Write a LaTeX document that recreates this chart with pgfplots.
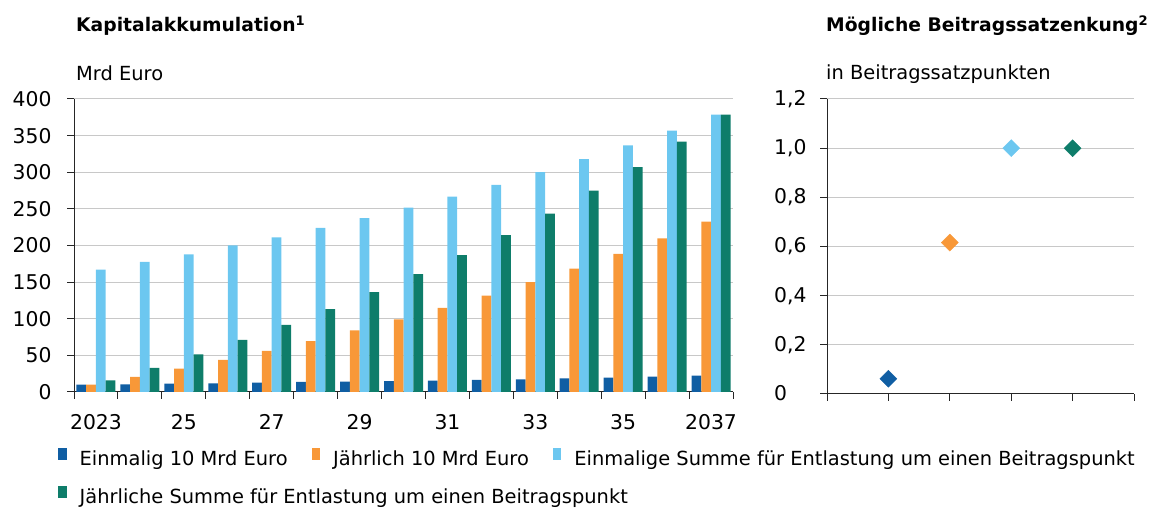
\documentclass[border=0pt]{standalone}
\usepackage{pgfplots}
\pgfplotsset{compat=1.18}
\usepackage{fontspec}
\setmainfont{DejaVu Sans}
\definecolor{cblue}{RGB}{16,94,163}
\definecolor{corange}{RGB}{248,152,56}
\definecolor{clight}{RGB}{108,199,240}
\definecolor{cgreen}{RGB}{14,125,106}
\definecolor{cgrid}{RGB}{200,200,200}
\begin{document}
\begin{tikzpicture}
\path[use as bounding box] (0,0) rectangle (1161bp,510bp);
\node[anchor=base west, font=\bfseries\fontsize{18.8}{22}\selectfont, inner sep=0] at (76bp,478bp) {Kapitalakkumulation\textsuperscript{1}};
\node[anchor=base west, font=\fontsize{19.5}{23}\selectfont, inner sep=0] at (76bp,429bp) {Mrd Euro};
\node[anchor=base west, font=\bfseries\fontsize{18.8}{22}\selectfont, inner sep=0] at (826bp,478bp) {Mögliche Beitragssatzenkung\textsuperscript{2}};
\node[anchor=base west, font=\fontsize{19.5}{23}\selectfont, inner sep=0] at (826bp,430bp) {in Beitragssatzpunkten};
\begin{axis}[
  name=L,
  at={(74bp,118bp)}, anchor=south west,
  width=659bp, height=293bp, scale only axis,
  xmin=-0.5, xmax=14.5, ymin=0, ymax=400,
  axis lines=left, axis line style={-, black!85, line width=1bp},
  ytick={0,50,...,400},
  ymajorgrids, grid style={cgrid, line width=1bp},
  xtick={0,2,4,6,8,10,12,14},
  xticklabels={2023,25,27,29,31,33,35,2037},
  tick align=outside, major tick length=7bp,
  tick style={black!85, line width=1bp},
  major x tick style={draw=none},
  /pgf/number format/assume math mode=true,
  tick label style={font=\fontsize{20.4}{24}\selectfont},
  xticklabel style={yshift=-12bp},
  yticklabel style={xshift=-12bp},
  legend columns=3,
  legend cell align=left,
  legend style={draw=none, fill=none, inner sep=0pt, at={(-0.0243,-0.19)}, anchor=north west,
    font=\fontsize{19.5}{23}\selectfont, row sep=17bp,
    /tikz/every odd column/.append style={column sep=11bp},
    /tikz/every even column/.append style={column sep=22bp}},
  legend image code/.code={\fill[#1,draw=none] (0bp,-1bp) rectangle (8.5bp,11bp);},
]
\addplot[ybar, bar width=9.75bp, bar shift=-14.625bp, fill=cblue, draw=none] coordinates {(0,10) (1,10.5) (2,11.4) (3,11.8) (4,12.7) (5,13.7) (6,14) (7,15) (8,15.5) (9,16.4) (10,17.3) (11,18.7) (12,19.6) (13,21) (14,22.3)};
\addlegendentry{Einmalig 10 Mrd Euro}
\addplot[ybar, bar width=9.75bp, bar shift=-4.875bp, fill=corange, draw=none] coordinates {(0,10) (1,20.5) (2,32) (3,43.7) (4,56) (5,69.6) (6,84) (7,99) (8,114.7) (9,131.5) (10,150) (11,168.4) (12,188.4) (13,209.8) (14,232.5)};
\addlegendentry{Jährlich 10 Mrd Euro}
\addplot[ybar, bar width=9.75bp, bar shift=4.875bp, fill=clight, draw=none] coordinates {(0,167) (1,177.5) (2,188) (3,200) (4,211) (5,224) (6,237.5) (7,251.6) (8,266.7) (9,282.6) (10,300) (11,318) (12,336.7) (13,356.8) (14,378.6)};
\addlegendentry{Einmalige Summe für Entlastung um einen Beitragspunkt}
\addplot[ybar, bar width=9.75bp, bar shift=14.625bp, fill=cgreen, draw=none] coordinates {(0,16) (1,33) (2,51.4) (3,71) (4,91.5) (5,113) (6,136.5) (7,161) (8,187) (9,214.3) (10,243.5) (11,275) (12,307) (13,341.8) (14,378.6)};
\addlegendentry{\makebox[0pt][l]{Jährliche Summe für Entlastung um einen Beitragspunkt}}
\end{axis}
\foreach \i in {0,...,15}{
  \draw[black!85, line width=1bp] ([xshift=\i*43.9333bp]L.south west) -- ++(0,-7bp);
}
\begin{axis}[
  at={(827bp,116bp)}, anchor=south west,
  width=307bp, height=295bp, scale only axis,
  xmin=0, xmax=5, ymin=0, ymax=1.2,
  axis lines=left, axis line style={-, black!85, line width=1bp},
  xtick={0,1,2,3,4,5}, xticklabels={},
  ytick={0,0.2,0.4,0.6,0.8,1.0,1.2},
  yticklabels={0\phantom{,0},{0,2},{0,4},{0,6},{0,8},{1,0},{1,2}},
  ymajorgrids, grid style={cgrid, line width=1bp},
  tick align=outside, major tick length=7bp,
  tick style={black!85, line width=1bp},
  tick label style={font=\fontsize{20.4}{24}\selectfont},
  yticklabel style={xshift=-10bp},
  clip=false,
]
\addplot[only marks, mark=square*, mark size=6bp, mark options={rotate=45, fill=cblue, draw=cblue}] coordinates {(1,0.062)};
\addplot[only marks, mark=square*, mark size=6bp, mark options={rotate=45, fill=corange, draw=corange}] coordinates {(2,0.616)};
\addplot[only marks, mark=square*, mark size=6bp, mark options={rotate=45, fill=clight, draw=clight}] coordinates {(3,1.0)};
\addplot[only marks, mark=square*, mark size=6bp, mark options={rotate=45, fill=cgreen, draw=cgreen}] coordinates {(4,1.0)};
\end{axis}
\end{tikzpicture}
\end{document}
